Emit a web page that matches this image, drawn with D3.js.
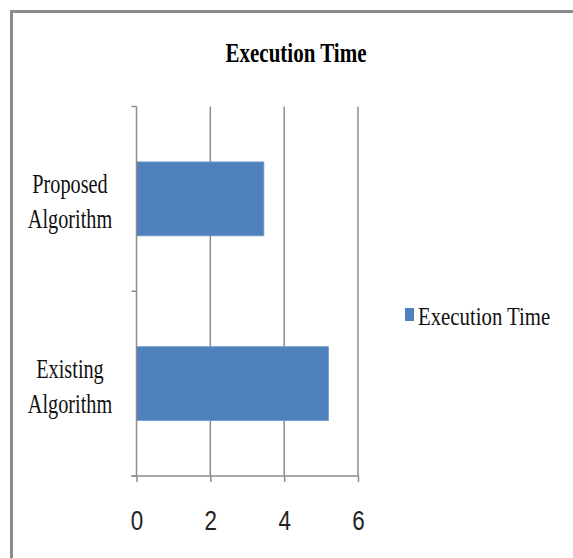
<!DOCTYPE html>
<html>
<head>
<meta charset="utf-8">
<script src="https://cdn.jsdelivr.net/npm/d3@7"></script>
<style>
  body { margin: 0; background: #fff; }
</style>
</head>
<body>
<div id="chart"></div>
<script>
// Data
const categories = ["Proposed Algorithm", "Existing Algorithm"];
const labelLines = [["Proposed", "Algorithm"], ["Existing", "Algorithm"]];
const executionTime = [3.45, 5.2];
const xTicks = [0, 2, 4, 6];
const seriesName = "Execution Time";

const W = 573, H = 558;
const gridColor = "#8c8c8c";
const barColor = "#4f81bd";

const svg = d3.select("#chart").append("svg")
  .attr("width", W)
  .attr("height", H);

// Outer frame (continues past right/bottom edges)
svg.append("rect")
  .attr("x", 11.5)
  .attr("y", 11.5)
  .attr("width", W + 20)
  .attr("height", H + 20)
  .attr("fill", "none")
  .attr("stroke", gridColor)
  .attr("stroke-width", 3);

// Scales
const x = d3.scaleLinear()
  .domain([0, 6])
  .range([136.5, 358]);

const y = d3.scaleBand()
  .domain(categories)
  .range([106.5, 476])
  .paddingInner(0.6)
  .paddingOuter(0.3);

// Title
svg.append("text")
  .attr("transform", `translate(296,62) scale(0.75,1)`)
  .attr("text-anchor", "middle")
  .style("font-family", "'Liberation Serif', 'Times New Roman', serif")
  .style("font-weight", "bold")
  .style("font-size", "28px")
  .text(seriesName);

// Vertical gridlines
svg.append("g")
  .selectAll("line")
  .data(xTicks.slice(1))
  .join("line")
  .attr("x1", d => x(d))
  .attr("x2", d => x(d))
  .attr("y1", y.range()[0])
  .attr("y2", y.range()[1])
  .attr("stroke", gridColor)
  .attr("stroke-width", 1.5);

// Bars
svg.append("g")
  .selectAll("rect")
  .data(categories)
  .join("rect")
  .attr("x", x(0))
  .attr("y", d => y(d))
  .attr("width", (d, i) => x(executionTime[i]) - x(0))
  .attr("height", y.bandwidth())
  .attr("fill", barColor)
  .attr("stroke", "#6f9bd1")
  .attr("stroke-width", 0.8);

// Bottom axis
const xAxis = svg.append("g")
  .attr("transform", `translate(0,${y.range()[1]})`)
  .call(d3.axisBottom(x).tickValues(xTicks).tickFormat(d3.format("d")).tickSize(6).tickSizeOuter(0));
xAxis.select(".domain")
  .attr("d", `M${x(0) - 5},0H${x(6)}`)
  .attr("stroke", gridColor)
  .attr("stroke-width", 1.5);
xAxis.selectAll(".tick line")
  .attr("stroke", gridColor)
  .attr("stroke-width", 1.5);
xAxis.selectAll(".tick text")
  .attr("y", 0)
  .attr("dy", null)
  .attr("transform", "translate(0,54) scale(0.8,1)")
  .attr("fill", "#222")
  .style("font-family", "'Liberation Sans', Arial, sans-serif")
  .style("font-size", "28px");

// Left axis line and category boundary ticks
const leftAxis = svg.append("g");
leftAxis.append("line")
  .attr("x1", x(0))
  .attr("x2", x(0))
  .attr("y1", y.range()[0])
  .attr("y2", y.range()[1])
  .attr("stroke", gridColor)
  .attr("stroke-width", 1.5);
const boundaries = d3.range(categories.length + 1).map(i => y.range()[0] + i * y.step());
leftAxis.selectAll(".btick")
  .data(boundaries)
  .join("line")
  .attr("class", "btick")
  .attr("x1", x(0) - 5)
  .attr("x2", x(0))
  .attr("y1", d => d)
  .attr("y2", d => d)
  .attr("stroke", gridColor)
  .attr("stroke-width", 1.5);

// Category labels
const catLabels = svg.append("g")
  .selectAll("g")
  .data(categories)
  .join("g")
  .attr("transform", d => `translate(70,${y(d) + y.bandwidth() / 2}) scale(0.75,1)`);
catLabels.selectAll("text")
  .data((d, i) => labelLines[i])
  .join("text")
  .attr("y", (d, j) => -6 + j * 35)
  .attr("text-anchor", "middle")
  .attr("fill", "#111")
  .style("font-family", "'Liberation Serif', 'Times New Roman', serif")
  .style("font-size", "27px")
  .text(d => d);

// Legend
const legend = svg.append("g").attr("transform", "translate(405,308)");
legend.append("rect")
  .attr("width", 9)
  .attr("height", 13)
  .attr("fill", barColor);
legend.append("text")
  .attr("transform", "translate(13,17) scale(0.8,1)")
  .attr("fill", "#111")
  .style("font-family", "'Liberation Serif', 'Times New Roman', serif")
  .style("font-size", "26px")
  .text(seriesName);
</script>
</body>
</html>
